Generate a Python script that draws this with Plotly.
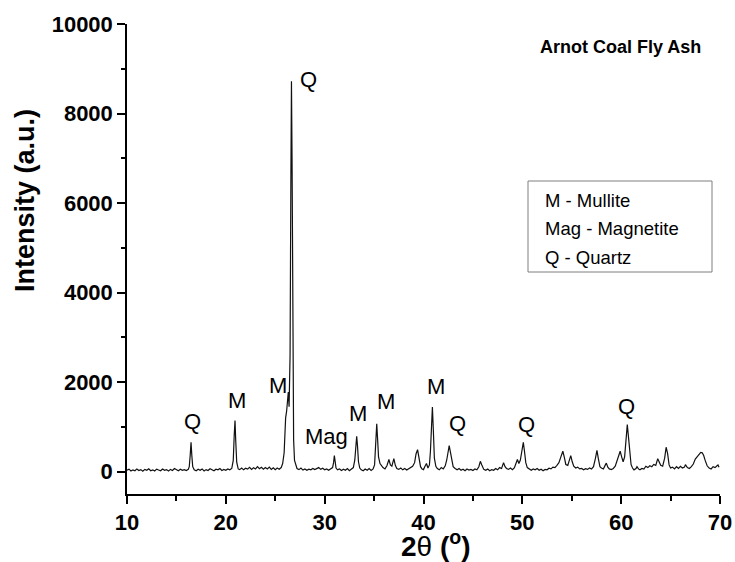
import plotly.graph_objects as go

# ---- data ----
two_theta = [
    10.0, 10.2, 10.4, 10.6, 10.8, 11.0, 11.2, 11.4, 11.6, 11.8, 12.0, 12.2, 12.4, 12.6, 12.8,
    13.0, 13.2, 13.4, 13.6, 13.8, 14.0, 14.2, 14.4, 14.6, 14.8, 15.0, 15.2, 15.4, 15.6, 15.8, 16.0,
    16.2, 16.3, 16.4, 16.48, 16.56, 16.65, 16.8,
    17.0, 17.2, 17.4, 17.6, 17.8, 18.0, 18.2, 18.4, 18.6, 18.8, 19.0, 19.2, 19.4, 19.6, 19.8, 20.0, 20.2, 20.4,
    20.6, 20.75, 20.85, 20.93, 21.0, 21.1, 21.25,
    21.4, 21.6, 21.8, 22.0, 22.2, 22.4, 22.6, 22.8, 23.0, 23.2, 23.4, 23.6, 23.8, 24.0, 24.2, 24.4, 24.6,
    24.8, 25.0, 25.2, 25.4, 25.6,
    25.75, 25.9, 26.0, 26.05, 26.15, 26.25, 26.32, 26.4, 26.5, 26.58, 26.64, 26.7, 26.78, 26.86, 26.95, 27.1,
    27.2, 27.4, 27.6, 27.8, 28.0, 28.2, 28.4, 28.6, 28.8, 29.0, 29.2, 29.4, 29.6, 29.8, 30.0, 30.2, 30.4, 30.6, 30.8,
    30.9, 30.98, 31.06, 31.15, 31.3, 31.5, 31.7, 31.9, 32.1, 32.3, 32.5, 32.7,
    32.9, 33.05, 33.15, 33.24, 33.32, 33.42, 33.55, 33.7, 33.9, 34.1, 34.3, 34.5, 34.7, 34.9,
    35.05, 35.15, 35.27, 35.35, 35.45, 35.6, 35.75, 35.9, 36.1, 36.3, 36.5, 36.65, 36.8, 37.0, 37.15, 37.3,
    37.5, 37.7, 37.9, 38.1, 38.3, 38.5, 38.7, 38.9,
    39.1, 39.25, 39.4, 39.55, 39.7, 39.85, 40.0, 40.15, 40.3, 40.45, 40.6,
    40.7, 40.8, 40.9, 41.0, 41.1, 41.25, 41.4, 41.6, 41.8, 42.0, 42.2, 42.35,
    42.5, 42.6, 42.72, 42.85, 43.0, 43.2, 43.4, 43.6, 43.8, 44.0, 44.2, 44.4, 44.6, 44.8, 45.0, 45.2, 45.4, 45.6,
    45.75, 45.9, 46.1, 46.3, 46.5, 46.7, 46.9, 47.1, 47.3, 47.5, 47.7, 47.9, 48.1, 48.25, 48.4, 48.6, 48.8,
    49.0, 49.2, 49.5, 49.65, 49.8, 49.95,
    50.1, 50.22, 50.35, 50.5, 50.7, 50.9, 51.1, 51.3, 51.5, 51.7, 51.9, 52.1, 52.3, 52.5, 52.7, 52.9, 53.1,
    53.3, 53.5, 53.7, 53.9, 54.1, 54.25, 54.4, 54.6, 54.75, 54.9, 55.05, 55.2, 55.4, 55.6, 55.8, 56.0, 56.2,
    56.4, 56.6, 56.8, 57.0, 57.2, 57.4, 57.55, 57.7, 57.85, 58.0, 58.2, 58.4, 58.5, 58.65, 58.8, 59.0, 59.2,
    59.4, 59.6, 59.8, 59.9, 60.05, 60.2, 60.35, 60.5, 60.62, 60.72, 60.85, 61.0, 61.15, 61.3, 61.5, 61.6,
    61.75, 61.9, 62.1, 62.3, 62.5, 62.7, 62.9, 63.1, 63.3, 63.5, 63.7, 63.85, 64.0, 64.2, 64.4, 64.55, 64.7,
    64.85, 65.0, 65.2, 65.4, 65.6, 65.8, 66.0, 66.2, 66.4, 66.5, 66.7, 66.9, 67.1, 67.3, 67.5, 67.7, 67.9,
    68.05, 68.2, 68.35, 68.5, 68.7, 68.9, 69.1, 69.3, 69.5, 69.7, 69.8, 69.9,
]
intensity = [
    30, 55, 15, 40, 20, 60, 25, 45, 10, 50, 30, 65, 20, 40, 15,
    55, 35, 20, 60, 30, 45, 15, 50, 25, 70, 35, 20, 55, 30, 45, 25,
    50, 110, 380, 655, 360, 110, 40,
    20, 55, 30, 60, 15, 45, 25, 65, 35, 20, 55, 40, 70, 25, 50, 30, 60, 40,
    70, 250, 820, 1140, 700, 210, 60,
    45, 80, 40, 75, 55, 95, 50, 85, 60, 110, 65, 95, 55, 90, 60, 100, 50,
    85, 45, 80, 55, 90,
    180, 420, 1100, 1200, 1350, 1600, 1780, 1450, 2600, 6500, 8720, 7000, 2500, 700, 250, 110,
    70, 45, 80, 35, 60, 30, 55, 40, 70, 45, 65, 90, 50, 75, 40, 60, 30, 55, 90,
    200, 357, 230, 80, 40, 60, 25, 55, 30, 70, 20, 50,
    90, 260, 620, 790, 580, 220, 80, 40, 20, 60, 30, 70, 25, 60,
    150, 550, 1070, 750, 330, 180, 120, 90, 60, 130, 270, 150, 120, 290, 140, 70,
    50, 80, 40, 70, 35, 60, 90, 120,
    200, 400, 490, 330, 110, 60, 45, 120, 180, 80, 150,
    450, 1100, 1445, 900, 300, 120, 70, 40, 90, 60, 130, 260,
    470, 580, 440, 230, 110, 70, 40, 70, 30, 55, 20, 60, 35, 50, 25, 60, 40, 110,
    230, 150, 50, 30, 60, 20, 45, 30, 70, 40, 90, 70, 200, 110, 70, 50, 80,
    45, 90, 270, 180, 260, 480,
    655, 450, 200, 90, 60, 30, 60, 40, 70, 30, 55, 20, 50, 40, 75, 60, 100,
    90, 140, 200, 330, 455, 320, 160, 140, 250, 357, 220, 120, 80, 100, 60, 70, 40,
    65, 50, 80, 60, 110, 300, 475, 280, 110, 80, 60, 150, 190, 100, 60, 45, 70,
    120, 250, 400, 455, 330, 220, 330, 750, 1050, 820, 400, 160, 80, 40, 70, 110,
    60, 40, 70, 55, 120, 90, 130, 110, 160, 140, 290, 200, 140, 120, 300, 545, 400,
    150, 80, 100, 60, 110, 70, 120, 80, 100, 155, 90, 70, 110, 170, 280, 340, 380,
    430, 420, 360, 250, 130, 80, 60, 110, 90, 130, 150, 100,
]

peak_labels = ["Q", "M", "M", "Q", "Mag", "M", "M", "M", "Q", "Q", "Q"]
label_x = [16.6, 21.1, 25.3, 28.4, 30.2, 33.4, 36.2, 41.3, 43.4, 50.4, 60.5]
label_y = [1130, 1600, 1930, 8760, 780, 1300, 1560, 1910, 1080, 1060, 1450]

legend_lines = ["M - Mullite", "Mag - Magnetite", "Q - Quartz"]
chart_title = "Arnot Coal Fly Ash"
x_title = "<b>2</b>θ<b> (<sup>o</sup>)</b>"
y_title = "<b>Intensity (a.u.)</b>"

FONT = "Arial, 'Liberation Sans', sans-serif"

layout_w, layout_h = 735, 562
ml, mr, mt, mb = 127, 15, 24, 68
pw, ph = layout_w - ml - mr, layout_h - mt - mb


def px2paper(px, py):
    return (px - ml) / pw, (layout_h - mb - py) / ph


fig = go.Figure()
fig.add_trace(go.Scatter(
    x=two_theta, y=intensity, mode="lines",
    line=dict(color="#111111", width=1.2), showlegend=False, hoverinfo="skip",
))

# peak labels
for t, xx, yy in zip(peak_labels, label_x, label_y):
    fig.add_annotation(x=xx, y=yy, xref="x", yref="y", text=t, showarrow=False,
                       font=dict(family=FONT, size=22, color="#000000"),
                       xanchor="center", yanchor="middle")

# title
tx, ty = px2paper(620, 47)
fig.add_annotation(x=tx, y=ty, xref="paper", yref="paper", text="<b>" + chart_title + "</b>",
                   showarrow=False, font=dict(family=FONT, size=18, color="#000000"),
                   xanchor="center", yanchor="middle")

# legend box
bx0, by0 = px2paper(528, 272)
bx1, by1 = px2paper(712, 181)
fig.add_shape(type="rect", xref="paper", yref="paper", x0=bx0, y0=by0, x1=bx1, y1=by1,
              line=dict(color="#7f7f7f", width=1), fillcolor="rgba(0,0,0,0)")
for i, line in enumerate(legend_lines):
    lx, ly = px2paper(543, 200 + 28.5 * i)
    fig.add_annotation(x=lx, y=ly, xref="paper", yref="paper", text=line, showarrow=False,
                       font=dict(family=FONT, size=18.5, color="#000000"),
                       xanchor="left", yanchor="middle")

# axis titles
ax, ay = px2paper(25, 201)
fig.add_annotation(x=ax, y=ay, xref="paper", yref="paper", text=y_title,
                   textangle=-90, showarrow=False, font=dict(family=FONT, size=27, color="#000000"),
                   xanchor="center", yanchor="middle")
xx_, xy_ = px2paper(436, 544)
fig.add_annotation(x=xx_, y=xy_, xref="paper", yref="paper", text=x_title,
                   showarrow=False, font=dict(family=FONT, size=28, color="#000000"),
                   xanchor="center", yanchor="middle")

fig.update_layout(
    width=layout_w, height=layout_h,
    margin=dict(l=ml, r=mr, t=mt, b=mb, pad=0, autoexpand=False),
    paper_bgcolor="white", plot_bgcolor="white",
    font=dict(family=FONT, color="#000000"),
    xaxis=dict(
        range=[10, 70], tickvals=[10, 20, 30, 40, 50, 60, 70], ticktext=["10", "20", "30", "40", "50", "60", "70"],
        showgrid=False, zeroline=False, showline=True, linecolor="#000000", linewidth=1.5,
        ticks="outside", ticklen=8, tickwidth=1.5, tickcolor="#000000", automargin=False,
        minor=dict(tickvals=[15, 25, 35, 45, 55, 65], ticks="outside", ticklen=5, tickwidth=1.5, tickcolor="#000000"),
        tickfont=dict(family=FONT, size=22, color="#000000", weight="bold"),
    ),
    yaxis=dict(
        range=[-500, 10000], tickvals=[0, 2000, 4000, 6000, 8000, 10000],
        ticktext=["0", "2000", "4000", "6000", "8000", "10000"],
        showgrid=False, zeroline=False, showline=True, linecolor="#000000", linewidth=1.5,
        ticks="outside", ticklen=8, tickwidth=1.5, tickcolor="#000000", automargin=False,
        minor=dict(tickvals=[1000, 3000, 5000, 7000, 9000], ticks="outside", ticklen=4, tickwidth=1.5, tickcolor="#000000"),
        tickfont=dict(family=FONT, size=22, color="#000000", weight="bold"),
    ),
)

fig.write_html("out.html")
